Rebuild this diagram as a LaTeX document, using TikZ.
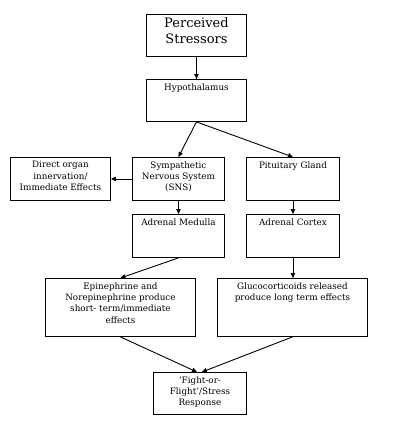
\documentclass[tikz,border=0pt]{standalone}
\usepackage{fontspec}
\setmainfont{DejaVu Serif}
\usetikzlibrary{arrows.meta}
\newcommand{\boxtxt}[4]{\parbox[c][#2pt][t]{#1pt}{\centering\vspace*{#3pt}#4\par}}
\tikzset{
  box/.style={draw=black, line width=0.9pt, inner sep=0pt, anchor=north west, font=\fontsize{8.8}{11.4}\selectfont},
  bigbox/.style={box, font=\fontsize{13}{16.5}\selectfont},
  arr/.style={line width=0.9pt, -{Triangle[length=5pt,width=4.5pt]}},
}
\begin{document}
\begin{tikzpicture}[x=1pt,y=-1pt]
\useasboundingbox[fill=white] (0,0) rectangle (400,436);
\node[bigbox] (ps) at (146,14) {\boxtxt{100}{42}{3}{Perceived\\Stressors}};
\node[box] (hyp) at (146,79) {\boxtxt{100}{42}{4}{Hypothalamus}};
\node[box] (dir) at (10,157) {\boxtxt{100}{43}{4}{Direct organ\\innervation/\\Immediate Effects}};
\node[box] (sns) at (132,157) {\boxtxt{92}{43}{4}{Sympathetic\\Nervous System\\(SNS)}};
\node[box] (pit) at (246,157) {\boxtxt{93}{43}{4}{Pituitary Gland}};
\node[box] (med) at (132,214) {\boxtxt{92}{43}{4}{Adrenal Medulla}};
\node[box] (cor) at (246,214) {\boxtxt{93}{43}{4}{Adrenal Cortex}};
\node[box] (epi) at (45,278) {\boxtxt{150}{58}{4}{Epinephrine and\\Norepinephrine produce\\short- term/immediate\\effects}};
\node[box] (glu) at (217,278) {\boxtxt{150}{58}{4}{Glucocorticoids released\\produce long term effects}};
\node[box] (ff) at (153,372) {\boxtxt{93}{42}{4}{‘Fight-or-\\Flight’/Stress\\Response}};
\draw[arr] (ps.south) -- (hyp.north);
\draw[arr] (hyp.south) -- (sns.north);
\draw[arr] (hyp.south) -- (pit.north);
\draw[arr] (sns.west) -- (dir.east);
\draw[arr] (sns.south) -- (med.north);
\draw[arr] (pit.south) -- (cor.north);
\draw[arr] (med.south) -- (epi.north);
\draw[arr] (cor.south) -- (cor.south |- glu.north);
\draw[arr] (epi.south) -- ([xshift=-3pt]ff.north);
\draw[arr] (glu.south) -- ([xshift=2pt]ff.north);
\end{tikzpicture}
\end{document}
